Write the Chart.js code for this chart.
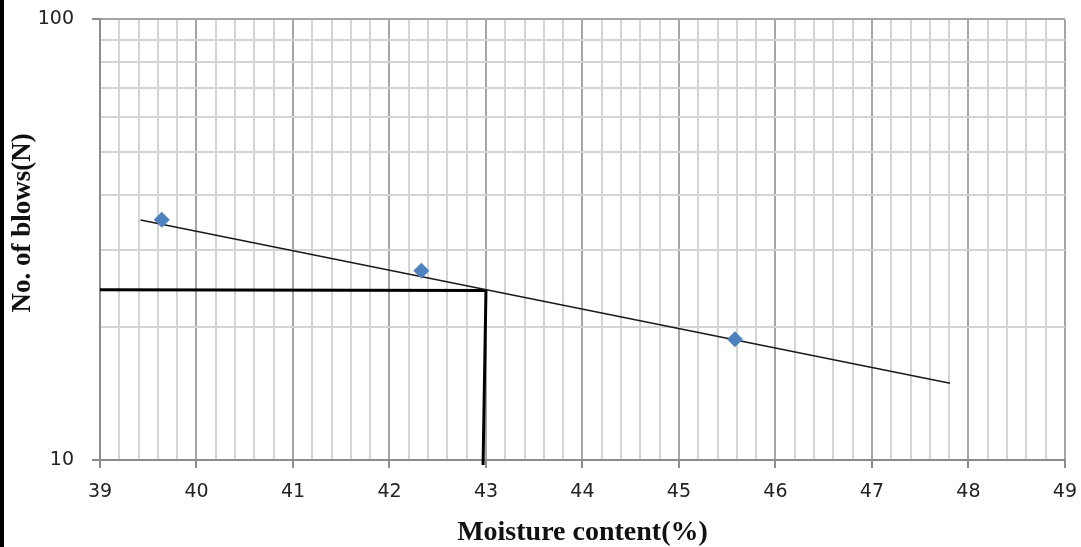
<!DOCTYPE html>
<html>
<head>
<meta charset="utf-8">
<script src="https://cdn.jsdelivr.net/npm/chart.js@4/dist/chart.umd.min.js"></script>
<style>
  body { margin: 0; background: #fff; }
  #wrap { position: relative; width: 1081px; height: 547px; overflow: hidden; }
  #box { position: absolute; left: 0; top: -10px; width: 1090px; height: 557px; }
  #edge { position: absolute; left: 0; top: 0; width: 4px; height: 547px; background: #000; }
</style>
</head>
<body>
<div id="wrap">
  <div id="box"><canvas id="flowChart"></canvas></div>
  <div id="edge"></div>
</div>
<script>
// measured points (moisture %, blows)
const moisture = [39.64, 42.33, 45.58];
const blows = [35.1, 26.9, 18.8];

// trend line ends
const trendX = [39.42, 47.81];
const trendY = [35.05, 14.93];

// hand drawn reading lines at N = 25
const readX = [39, 43.0, 42.97];
const readY = [24.35, 24.25, 9.74];

const xMin = 39, xMax = 49;
const yMin = 10, yMax = 100;
const yGridValues = [10, 20, 30, 40, 50, 60, 70, 80, 90, 100];
const yLabelValues = [10, 100];

function toPoints(xs, ys) {
    return xs.map((x, i) => ({ x: x, y: ys[i] }));
}

function isWhole(v) {
    return Math.abs(v - Math.round(v)) < 1e-6;
}

function isYMajor(ctx) {
    return ctx.tick && yLabelValues.includes(ctx.tick.value);
}

document.addEventListener("DOMContentLoaded", function () {
    new Chart("flowChart", {
        type: "scatter",
        data: {
            datasets: [
                {
                    label: "points",
                    data: toPoints(moisture, blows),
                    pointStyle: "rectRot",
                    pointRadius: 8,
                    backgroundColor: "#4F81BD",
                    borderColor: "#4F81BD",
                    borderWidth: 0,
                    order: 0
                },
                {
                    label: "trend",
                    data: toPoints(trendX, trendY),
                    showLine: true,
                    borderColor: "#1a1a1a",
                    borderWidth: 1.5,
                    pointRadius: 0,
                    order: 1
                },
                {
                    label: "reading",
                    data: toPoints(readX, readY),
                    showLine: true,
                    borderColor: "#000",
                    borderWidth: 3,
                    pointRadius: 0,
                    clip: false,
                    order: 2
                }
            ]
        },
        options: {
            responsive: true,
            maintainAspectRatio: false,
            animation: false,
            layout: { padding: { left: 0, right: 8, top: 8, bottom: 0 } },
            plugins: {
                legend: { display: false },
                tooltip: { enabled: false }
            },
            scales: {
                x: {
                    type: "linear",
                    min: xMin,
                    max: xMax,
                    afterFit: function (scale) { scale.height = 87; },
                    ticks: {
                        stepSize: 0.2,
                        autoSkip: false,
                        maxRotation: 0,
                        padding: 13,
                        color: "#222",
                        font: { family: "DejaVu Sans", size: 19 },
                        callback: function (v) { return isWhole(v) ? String(Math.round(v)) : ""; }
                    },
                    grid: {
                        lineWidth: 2,
                        tickLength: 8,
                        color: (ctx) => (ctx.tick && isWhole(ctx.tick.value)) ? "#a6a6a6" : "#d4d4d4",
                        tickColor: (ctx) => (ctx.tick && isWhole(ctx.tick.value)) ? "#8c8c8c" : "rgba(0,0,0,0)"
                    },
                    border: { color: "#8c8c8c", width: 2 },
                    title: {
                        display: true,
                        text: "Moisture content(%)",
                        color: "#111",
                        font: { family: "Liberation Serif", size: 28, weight: "bold", lineHeight: 1 },
                        padding: { top: 0, bottom: 0 }
                    }
                },
                y: {
                    type: "logarithmic",
                    min: yMin,
                    max: yMax,
                    afterFit: function (scale) { scale.width = 100; },
                    afterBuildTicks: function (scale) {
                        scale.ticks = yGridValues.map((v) => ({ value: v }));
                    },
                    ticks: {
                        autoSkip: false,
                        padding: 18,
                        color: "#222",
                        font: { family: "DejaVu Sans", size: 19 },
                        callback: function (v) { return yLabelValues.includes(v) ? String(v) : ""; }
                    },
                    grid: {
                        lineWidth: 2,
                        tickLength: 8,
                        color: (ctx) => isYMajor(ctx) ? "#a6a6a6" : "#d4d4d4",
                        tickColor: (ctx) => isYMajor(ctx) ? "#8c8c8c" : "rgba(0,0,0,0)"
                    },
                    border: { color: "#8c8c8c", width: 2 },
                    title: {
                        display: true,
                        text: "     No. of blows(N)",
                        color: "#111",
                        font: { family: "Liberation Serif", size: 27, weight: "bold" },
                        padding: { top: 7, bottom: 0 }
                    }
                }
            }
        }
    });
});
</script>
</body>
</html>
